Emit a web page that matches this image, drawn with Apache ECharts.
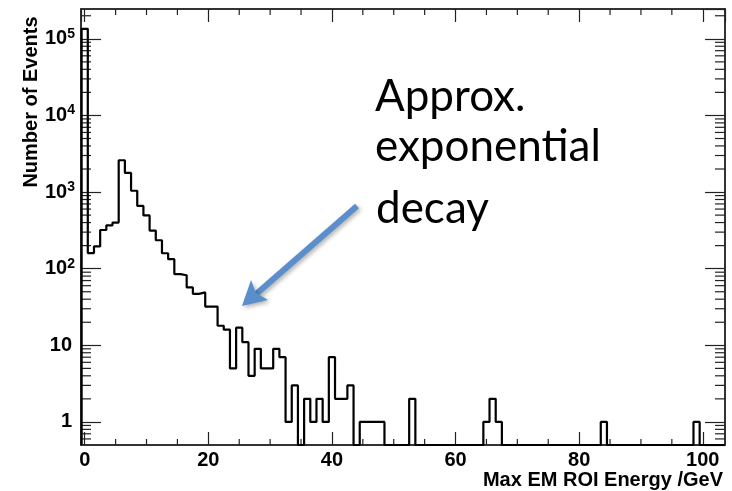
<!DOCTYPE html>
<html>
<head>
<meta charset="utf-8">
<script src="https://cdn.jsdelivr.net/npm/echarts@6/dist/echarts.min.js"></script>
<style>
html,body{margin:0;padding:0;background:#fff;}
#chart{width:732px;height:491px;}
</style>
</head>
<body>
<div id="chart"></div>
<script>
// ---- data ----
// histogram bin contents, bins of width 1 GeV centred on 0,1,2,...
var binStart = -0.5;
var binWidth = 1;
var counts = [
  135000, 160, 195, 320, 368, 400, 2600, 1780, 1040, 660,
  495, 314, 235, 159, 133, 85, 82, 57, 47, 49,
  32, 32, 18, 16, 5, 17, 11, 4, 9, 5,
  5, 9, 7, 1, 3, 0, 2, 1, 2, 1,
  7, 2, 2, 3, 0, 1, 1, 1, 1, 0,
  0, 0, 0, 2, 0, 0, 0, 0, 0, 0,
  0, 0, 0, 0, 0, 1, 2, 1, 0, 0,
  0, 0, 0, 0, 0, 0, 0, 0, 0, 0,
  0, 0, 0, 0, 1, 0, 0, 0, 0, 0,
  0, 0, 0, 0, 0, 0, 0, 0, 0, 1,
  0, 0, 0, 0
];
var xMin = -0.6, xMax = 103.6;
var yMin = 0.5, yMax = 245000;
var yDecades = [-1, 0, 1, 2, 3, 4, 5];
var yMinorMultipliers = [2, 3, 4, 5, 6, 7, 8, 9];
var xMinorTicks = [5, 10, 15, 25, 30, 35, 45, 50, 55, 65, 70, 75, 85, 90, 95];
var yTickValues = [1, 10, 100, 1000, 10000, 100000];
var yTickLabels = ['{n|1}', '{n|10}', '{m|10}{s|2}', '{m|10}{s|3}', '{m|10}{s|4}', '{m|10}{s|5}'];
var xTitle = 'Max EM ROI Energy /GeV';
var yTitle = 'Number of Events';
var noteLines = ['Approx.', 'exponential', 'decay'];

// ---- build step outline ----
var stepPts = [[binStart, yMin]];
counts.forEach(function (c, i) {
  var v = c > 0 ? c : yMin;
  var lo = binStart + i * binWidth, hi = lo + binWidth;
  stepPts.push([lo, v]);
  stepPts.push([hi, v]);
});

var yMinor = [];
yDecades.forEach(function (d) {
  yMinorMultipliers.forEach(function (m) {
    var v = m * Math.pow(10, d);
    if (v > yMin && v < yMax) yMinor.push([xMin, v]);
  });
});
var xMinor = xMinorTicks.map(function (x) { return [x, yMin]; });

var FONT = '"Liberation Sans", Arial, Helvetica, sans-serif';
var NOTE_FONT = '44px Lato, "Open Sans", sans-serif';
var frameColor = '#333';
var tickColor = '#222';

var chart = echarts.init(document.getElementById('chart'), null, {renderer: 'canvas'});

function yLabel(v) {
  for (var i = 0; i < yTickValues.length; i++) {
    if (Math.abs(v - yTickValues[i]) / yTickValues[i] < 1e-6) return yTickLabels[i];
  }
  return '';
}

var commonX = {
  type: 'value', min: xMin, max: xMax, splitNumber: 5,
  axisLine: {show: true, onZero: false, lineStyle: {color: frameColor, width: 2}},
  axisTick: {show: true, inside: true, length: 13, lineStyle: {color: tickColor, width: 1.2}},
  splitLine: {show: false},
  minorTick: {show: false}
};
var commonY = {
  type: 'log', min: yMin, max: yMax, logBase: 10, splitNumber: 5,
  axisLine: {show: true, onZero: false, lineStyle: {color: frameColor, width: 2}},
  axisTick: {show: true, inside: true, length: 20, lineStyle: {color: tickColor, width: 1.2}},
  splitLine: {show: false}
};

function noteText(txt, x, y) {
  return {type: 'text', x: x, y: y, silent: true,
    style: {text: txt, fill: '#000', font: NOTE_FONT, align: 'left', verticalAlign: 'middle', textAlign: 'left', textVerticalAlign: 'middle'}};
}

var option = {
  animation: false,
  backgroundColor: '#fff',
  grid: {left: 81, right: 7, top: 9, bottom: 46, containLabel: false},
  xAxis: [
    Object.assign({}, commonX, {
      position: 'bottom',
      axisLabel: {show: true, margin: 5, showMinLabel: false, showMaxLabel: false,
        color: '#000', fontFamily: FONT, fontWeight: 'bold', fontSize: 20}
    }),
    Object.assign({}, commonX, {position: 'top', axisLabel: {show: false}})
  ],
  yAxis: [
    Object.assign({}, commonY, {
      position: 'left',
      axisLabel: {
        show: true, margin: 6, showMinLabel: false, showMaxLabel: false,
        formatter: yLabel,
        rich: {
          n: {color: '#000', fontFamily: FONT, fontWeight: 'bold', fontSize: 20, lineHeight: 24, padding: [0, 3, 0, 0]},
          m: {color: '#000', fontFamily: FONT, fontWeight: 'bold', fontSize: 20, lineHeight: 24},
          s: {color: '#000', fontFamily: FONT, fontWeight: 'bold', fontSize: 14, lineHeight: 14, verticalAlign: 'top'}
        }
      }
    }),
    Object.assign({}, commonY, {position: 'right', axisLabel: {show: false}})
  ],
  graphic: [
    {type: 'text', x: 723, y: 480, silent: true,
      style: {text: xTitle, fill: '#000', font: 'bold 20px ' + FONT, align: 'right', verticalAlign: 'middle', textAlign: 'right', textVerticalAlign: 'middle'}},
    {type: 'text', x: 31, y: 102, rotation: Math.PI / 2, silent: true,
      style: {text: yTitle, fill: '#000', font: 'bold 20px ' + FONT, align: 'center', verticalAlign: 'middle', textAlign: 'center', textVerticalAlign: 'middle'}},
    noteText(noteLines[0], 375, 97),
    noteText(noteLines[1], 375, 147),
    noteText(noteLines[2], 376, 209),
    {type: 'line', silent: true, z: 100,
      shape: {x1: 357, y1: 206, x2: 255, y2: 295},
      style: {stroke: '#5b8fcb', lineWidth: 6, lineCap: 'butt', shadowBlur: 4, shadowColor: 'rgba(0,0,0,0.3)', shadowOffsetX: 2, shadowOffsetY: 2}},
    {type: 'polygon', silent: true, z: 100,
      shape: {points: [[242, 306], [251, 280], [256, 293], [268, 300]]},
      style: {fill: '#5b8fcb', shadowBlur: 4, shadowColor: 'rgba(0,0,0,0.3)', shadowOffsetX: 2, shadowOffsetY: 2}}
  ],
  series: [
    {
      type: 'line', xAxisIndex: 0, yAxisIndex: 0,
      data: stepPts, showSymbol: false, symbol: 'none',
      lineStyle: {color: '#000', width: 2.2}, clip: true, z: 5, silent: true
    },
    {
      type: 'custom', xAxisIndex: 0, yAxisIndex: 0, silent: true, z: 4,
      data: yMinor,
      renderItem: function (params, api) {
        var p = api.coord([api.value(0), api.value(1)]);
        var cs = params.coordSys;
        var xl = cs.x, xr = cs.x + cs.width;
        return {type: 'group', children: [
          {type: 'line', shape: {x1: xl, y1: p[1], x2: xl + 10, y2: p[1]}, style: {stroke: tickColor, lineWidth: 1.2}},
          {type: 'line', shape: {x1: xr, y1: p[1], x2: xr - 10, y2: p[1]}, style: {stroke: tickColor, lineWidth: 1.2}}
        ]};
      }
    },
    {
      type: 'custom', xAxisIndex: 0, yAxisIndex: 0, silent: true, z: 4,
      data: xMinor,
      renderItem: function (params, api) {
        var p = api.coord([api.value(0), api.value(1)]);
        var cs = params.coordSys;
        var yb = cs.y + cs.height, yt = cs.y;
        return {type: 'group', children: [
          {type: 'line', shape: {x1: p[0], y1: yb, x2: p[0], y2: yb - 6}, style: {stroke: tickColor, lineWidth: 1.2}},
          {type: 'line', shape: {x1: p[0], y1: yt, x2: p[0], y2: yt + 6}, style: {stroke: tickColor, lineWidth: 1.2}}
        ]};
      }
    }
  ]
};
chart.setOption(option);
</script>
</body>
</html>
